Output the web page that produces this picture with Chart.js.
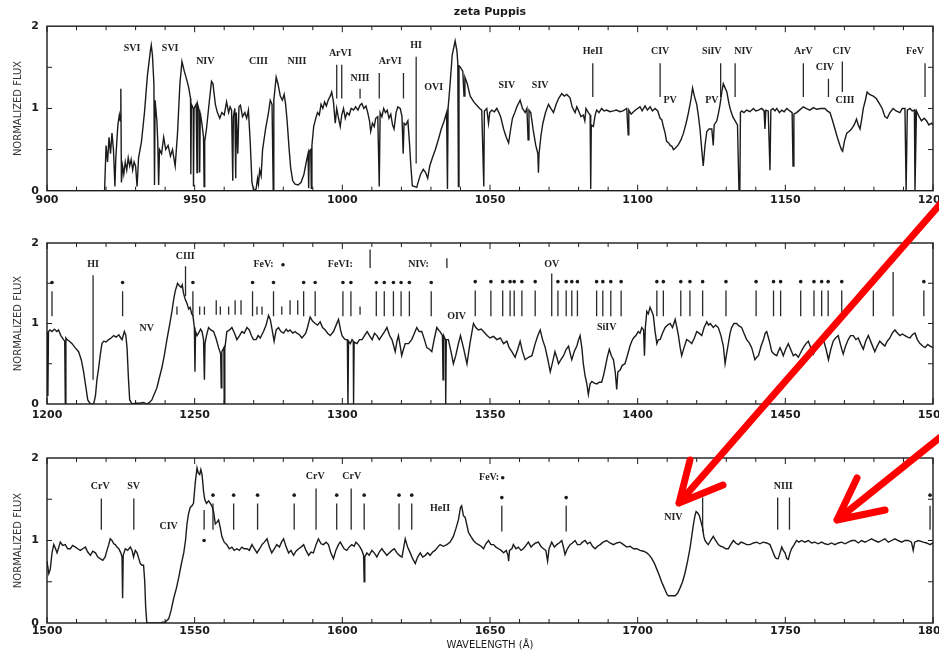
<!DOCTYPE html>
<html>
<head>
<meta charset="utf-8">
<title>zeta Puppis</title>
<script src="https://cdn.jsdelivr.net/npm/chart.js@4.4.1/dist/chart.umd.min.js"></script>
<style>
  html, body { margin: 0; padding: 0; background: #fff; }
  #wrap { position: relative; width: 939px; height: 652px; overflow: hidden; }
  #wrap canvas { position: absolute; left: 0; }
  #arrows { top: 0; pointer-events: none; }
</style>
</head>
<body>
<div id="wrap">
  <canvas id="panel1" width="939" height="215" style="top:0"></canvas>
  <canvas id="panel2" width="939" height="215" style="top:215px"></canvas>
  <canvas id="panel3" width="939" height="222" style="top:430px"></canvas>
  <canvas id="arrows" width="939" height="652"></canvas>
</div>
<script>
// --- DATA: panel 1 (900-1200 A) ---
const p1Wave = [
  919.5, 920.0, 920.5, 921.0, 921.5, 922.0, 922.5, 923.0, 923.3, 924.0,
  924.5, 924.8, 925.0, 925.2, 925.6, 926.0, 926.5, 927.0, 927.5, 928.0,
  928.5, 929.0, 929.5, 930.0, 930.5, 931.0, 932.0, 933.0, 934.0, 935.0,
  935.3, 935.7, 936.2, 936.4, 936.6, 937.2, 937.5, 937.8, 938.1, 938.8,
  939.5, 940.2, 941.0, 941.8, 942.5, 943.4, 944.2, 945.0, 945.7, 946.5,
  947.3, 948.0, 948.6, 948.7, 948.9, 949.5, 949.6, 949.8, 950.5, 950.8,
  951.0, 951.5, 951.7, 951.9, 952.5, 953.0, 953.2, 953.4, 954.0, 955.0,
  955.7, 956.2, 957.0, 957.7, 958.5, 959.2, 960.0, 960.8, 961.5, 962.0,
  962.5, 962.9, 963.1, 963.6, 963.9, 964.1, 964.6, 965.0, 965.5, 966.2,
  967.0, 967.6, 968.2, 968.8, 969.4, 970.0, 970.8, 971.3, 971.6, 972.0,
  972.5, 973.0, 974.0, 975.0, 975.6, 976.2, 976.6, 976.8, 977.6, 978.2,
  979.0, 979.7, 980.3, 980.8, 981.3, 982.0, 982.5, 983.2, 984.0, 985.0,
  986.0, 987.0, 987.8, 988.4, 988.6, 988.8, 989.3, 989.5, 989.7, 990.3,
  991.0, 991.6, 992.2, 992.8, 993.4, 994.0, 994.6, 995.2, 995.9, 996.4,
  997.0, 997.6, 998.1, 998.6, 999.3, 999.8, 1000.4, 1001.0, 1001.6, 1002.3,
  1003.0, 1003.8, 1004.5, 1005.3, 1006.0, 1006.6, 1007.3, 1008.0, 1008.6, 1009.2,
  1009.6, 1010.2, 1010.8, 1011.3, 1012.0, 1012.5, 1012.8, 1013.4, 1014.0, 1014.6,
  1015.2, 1015.8, 1016.4, 1017.0, 1017.5, 1018.2, 1018.8, 1019.6, 1020.2, 1020.6,
  1020.9, 1021.5, 1022.2, 1022.7, 1023.2, 1023.7, 1024.5, 1025.2, 1025.8, 1026.5,
  1027.4, 1028.2, 1028.9, 1029.6, 1030.5, 1031.5, 1032.5, 1033.5, 1034.5, 1035.3,
  1035.6, 1035.8, 1036.5, 1037.2, 1038.2, 1038.8, 1039.1, 1039.3, 1039.5, 1040.0,
  1040.8, 1041.2, 1041.5, 1042.3, 1043.3, 1044.5, 1045.5, 1046.5, 1047.2, 1047.9,
  1048.1, 1048.9, 1049.5, 1049.9, 1050.6, 1051.5, 1052.3, 1053.0, 1053.6, 1054.6,
  1055.5, 1056.3, 1057.0, 1057.6, 1058.4, 1059.1, 1060.2, 1061.0, 1061.9, 1062.5,
  1062.9, 1063.2, 1063.8, 1064.7, 1065.5, 1066.2, 1066.4, 1066.6, 1067.3, 1067.9,
  1068.8, 1069.8, 1070.6, 1071.5, 1072.4, 1073.2, 1074.3, 1075.2, 1076.0, 1077.1,
  1077.8, 1078.8, 1079.4, 1079.9, 1080.8, 1081.6, 1082.1, 1082.5, 1083.3, 1083.9,
  1084.1, 1084.3, 1085.0, 1085.6, 1086.1, 1086.9, 1087.8, 1088.6, 1089.5, 1090.6,
  1091.8, 1092.8, 1094.0, 1095.0, 1096.3, 1096.8, 1097.0, 1097.8, 1098.6, 1099.6,
  1100.8, 1101.5, 1102.5, 1103.3, 1104.2, 1105.0, 1105.9, 1106.8, 1107.6, 1108.2,
  1108.7, 1109.3, 1109.8, 1110.5, 1111.0, 1111.6, 1112.1, 1112.8, 1113.8, 1114.7,
  1115.5, 1116.4, 1117.2, 1118.0, 1118.6, 1119.2, 1120.0, 1120.6, 1121.1, 1121.7,
  1122.2, 1122.8, 1123.4, 1124.2, 1125.1, 1125.6, 1125.9, 1126.8, 1127.4, 1127.9,
  1128.5, 1129.0, 1129.6, 1130.2, 1130.8, 1131.3, 1132.2, 1133.0, 1133.8, 1134.3,
  1134.6, 1134.8, 1135.2, 1136.0, 1136.9, 1138.0, 1139.2, 1140.0, 1140.9, 1142.0,
  1142.8, 1143.1, 1143.4, 1144.2, 1144.8, 1145.1, 1145.8, 1146.5, 1147.1, 1148.0,
  1148.8, 1149.6, 1150.5, 1151.5, 1152.3, 1152.6, 1152.9, 1153.8, 1154.8, 1156.1,
  1157.0, 1158.3, 1159.5, 1160.6, 1162.0, 1163.4, 1164.2, 1165.1, 1166.0, 1166.8,
  1167.6, 1168.5, 1169.0, 1169.4, 1170.0, 1170.8, 1171.6, 1172.4, 1173.3, 1174.1,
  1174.7, 1175.3, 1175.9, 1176.4, 1177.1, 1177.7, 1178.5, 1179.8, 1180.8, 1182.0,
  1182.8, 1183.7, 1184.5, 1185.4, 1186.5, 1187.5, 1188.8, 1189.6, 1190.5, 1190.9,
  1191.3, 1192.2, 1193.0, 1193.7, 1193.9, 1194.4, 1195.3, 1196.1, 1197.0, 1197.8,
  1198.6, 1199.5, 1200.0
];
const p1Flux = [
  0.0, 0.55, 0.35, 0.65, 0.45, 0.7, 0.5, 0.05, 0.4, 0.8,
  0.92, 0.85, 1.24, 0.1, 0.3, 0.2, 0.35, 0.25, 0.4, 0.3,
  0.38, 0.25, 0.35, 0.3, 0.05, 0.4, 0.6, 0.95, 1.4, 1.7,
  1.77, 1.65, 1.3, 0.07, 1.1, 0.85, 0.6, 0.07, 0.5, 0.45,
  0.65, 0.5, 0.55, 0.42, 0.5, 0.3, 0.7, 1.3, 1.57, 1.45,
  1.35, 1.25, 1.12, 0.2, 1.05, 1.0, 0.05, 1.0, 1.05, 0.22,
  1.05, 0.98, 0.22, 0.95, 0.8, 0.65, 0.05, 0.6, 0.75, 1.1,
  1.33, 1.3, 1.05, 0.95, 0.88, 0.95, 0.92, 1.08, 0.95, 1.02,
  0.98, 0.12, 0.9, 1.0, 0.15, 0.95, 0.45, 1.02, 1.04, 0.9,
  0.95, 0.88, 0.98, 0.6, 0.1, 0.0, 0.02, 0.15, 0.08, 0.25,
  0.18, 0.5, 0.75, 0.95, 1.1, 1.05, 0.0, 1.1, 1.38, 1.3,
  1.15, 1.1, 1.17, 1.05, 0.85, 0.5, 0.28, 0.12, 0.08, 0.07,
  0.1, 0.2, 0.35, 0.45, 0.03, 0.48, 0.5, 0.03, 0.55, 0.78,
  0.88, 0.95, 0.92, 1.05, 1.0, 1.08, 1.03, 1.1, 1.15, 1.2,
  1.08, 0.82, 1.0, 0.9, 0.78, 0.92, 1.0, 0.88, 0.95, 0.92,
  1.0, 0.98, 1.02, 0.98, 1.04, 1.06, 1.0, 1.03, 0.95, 0.85,
  0.72, 0.82, 0.78, 0.88, 0.9, 0.05, 0.95, 0.9, 1.0, 0.95,
  0.98, 0.88, 0.93, 0.8, 0.75, 0.95, 1.02, 1.0, 0.9, 0.45,
  0.82, 0.8, 0.85, 0.6, 0.3, 0.06, 0.05, 0.04, 0.12, 0.2,
  0.26, 0.22, 0.15, 0.3, 0.4, 0.5, 0.62, 0.75, 0.85, 0.95,
  0.02, 1.0, 1.3, 1.65, 1.82, 1.7, 1.55, 0.05, 1.52, 1.5,
  1.45, 1.15, 1.38, 1.3, 1.15, 1.08, 1.04, 1.0, 0.98, 0.05,
  0.97, 1.0, 0.82, 0.95, 0.98, 0.96, 1.0, 0.95, 0.9, 0.75,
  0.65, 0.58, 0.75, 0.88, 0.95, 1.02, 1.1, 1.0, 0.95, 1.0,
  0.62, 0.98, 0.95, 0.72, 0.55, 0.45, 0.22, 0.45, 0.68, 0.82,
  0.95, 1.05, 1.0, 0.95, 1.05, 1.12, 1.18, 1.15, 1.17, 1.13,
  1.02, 0.95, 1.02, 0.98, 0.9, 0.92, 0.85, 1.0, 0.95, 0.92,
  0.02, 0.8, 0.78, 0.92, 0.98, 0.95, 1.0, 0.97, 0.98, 0.96,
  0.97, 0.98, 0.96, 0.97, 1.0, 0.68, 0.98, 0.93, 0.96, 0.99,
  1.02, 0.97, 1.03, 0.98, 1.02, 0.97, 1.0, 0.97, 0.88, 0.86,
  0.78, 0.7, 0.6, 0.58, 0.55, 0.54, 0.5, 0.52, 0.56, 0.62,
  0.7, 0.82, 0.95, 1.1, 1.25, 1.15, 1.05, 0.9, 0.75, 0.5,
  0.3, 0.55, 0.72, 0.75, 0.75, 0.55, 0.8, 0.85, 0.95, 1.05,
  1.2, 1.3, 1.25, 1.2, 1.08, 1.0, 0.9, 0.85, 0.8, 0.0,
  0.0, 0.95, 0.97, 0.95, 0.98, 0.96, 1.0, 0.97, 0.98, 1.0,
  0.97, 0.75, 0.98, 0.97, 0.25, 0.98, 1.0, 0.97, 1.0, 0.95,
  0.98, 0.96, 1.0, 0.97, 0.95, 0.3, 0.93, 0.95, 0.98, 1.02,
  1.0, 0.98, 1.01, 0.99, 1.0, 1.0, 0.97, 0.95, 0.85, 0.75,
  0.65, 0.55, 0.5, 0.48, 0.6, 0.7, 0.72, 0.75, 0.8, 0.87,
  0.8, 0.75, 0.88, 1.0, 1.1, 1.2, 1.17, 1.15, 1.12, 1.05,
  1.0, 0.9, 0.88, 0.95, 1.0, 0.97, 0.95, 1.0, 1.0, 0.0,
  0.98, 1.0, 0.97, 0.98, 0.0, 0.97, 0.9, 0.85, 0.88, 0.85,
  0.8, 0.82, 0.8
];
const p1LabelText = ['SVI', 'SVI', 'NIV', 'CIII', 'NIII', 'ArVI', 'NIII', 'ArVI', 'HI', 'OVI',
  'SIV', 'SIV', 'HeII', 'CIV', 'PV', 'SiIV', 'PV', 'NIV', 'ArV', 'CIV', 'CIV', 'CIII', 'FeV'];
const p1LabelWave = [928.8, 941.7, 953.6, 971.6, 984.6, 999.3, 1006.0, 1016.2, 1025.0, 1030.9,
  1055.7, 1067.0, 1084.8, 1107.6, 1111.0, 1125.1, 1125.1, 1135.8, 1156.1, 1163.4, 1169.1, 1170.2, 1193.9];
const p1LabelFlux = [1.73, 1.73, 1.57, 1.57, 1.57, 1.67, 1.36, 1.57, 1.77, 1.26,
  1.28, 1.28, 1.69, 1.69, 1.1, 1.69, 1.1, 1.69, 1.69, 1.5, 1.69, 1.1, 1.69];
const p1MarkWave = [998.1, 999.8, 1006.0, 1012.5, 1020.7, 1025.0, 1084.8, 1107.6, 1128.1, 1133.0, 1156.1, 1164.6, 1169.3, 1197.3];
const p1MarkTop  = [1.53, 1.53, 1.24, 1.43, 1.43, 1.63, 1.55, 1.55, 1.55, 1.55, 1.55, 1.36, 1.57, 1.55];
const p1MarkBot  = [1.12, 1.12, 1.12, 1.12, 1.12, 0.33, 1.14, 1.14, 1.14, 1.14, 1.14, 1.14, 1.2, 1.14];

// --- DATA: panel 2 (1200-1500 A) ---
const p2Wave = [
  1200.0, 1200.3, 1200.5, 1201.0, 1201.7, 1202.5, 1203.3, 1203.9, 1204.7, 1205.6,
  1206.0, 1206.2, 1206.4, 1206.8, 1207.6, 1208.5, 1209.5, 1210.7, 1211.6, 1212.4,
  1213.2, 1213.8, 1214.7, 1215.8, 1216.4, 1216.9, 1217.5, 1218.0, 1218.6, 1219.2,
  1220.0, 1220.9, 1221.7, 1222.6, 1223.4, 1224.3, 1225.0, 1225.4, 1226.2, 1226.7,
  1227.1, 1227.6, 1228.0, 1228.8, 1230.0, 1231.6, 1232.5, 1233.8, 1234.7, 1235.5,
  1236.3, 1237.2, 1238.0, 1238.9, 1239.8, 1240.6, 1241.5, 1242.3, 1242.9, 1243.4,
  1244.2, 1244.8, 1245.4, 1245.8, 1246.2, 1246.8, 1247.4, 1248.0, 1248.5, 1249.0,
  1249.4, 1249.9, 1250.1, 1250.3, 1250.8, 1251.3, 1252.0, 1252.5, 1253.0, 1253.3,
  1253.5, 1254.0, 1254.7, 1255.5, 1256.4, 1257.2, 1258.1, 1258.8, 1259.0, 1259.2,
  1259.9, 1260.0, 1260.2, 1260.9, 1261.8, 1262.6, 1263.5, 1264.3, 1265.2, 1266.0,
  1266.8, 1267.7, 1268.5, 1269.2, 1269.9, 1270.8, 1271.5, 1272.2, 1273.3, 1274.2,
  1275.0, 1275.6, 1276.1, 1276.9, 1277.6, 1278.4, 1279.2, 1280.1, 1281.0, 1281.6,
  1282.3, 1283.2, 1284.0, 1284.6, 1285.5, 1286.3, 1287.0, 1287.6, 1288.2, 1289.1,
  1289.9, 1290.8, 1291.6, 1292.5, 1293.3, 1294.2, 1295.0, 1295.9, 1297.0, 1297.9,
  1298.7, 1299.4, 1299.9, 1300.5, 1301.0, 1301.7, 1301.9, 1302.1, 1302.7, 1303.3,
  1303.7, 1303.8, 1304.0, 1305.0, 1305.8, 1306.7, 1307.5, 1308.4, 1309.2, 1310.1,
  1310.9, 1311.7, 1312.5, 1313.4, 1314.3, 1315.1, 1316.0, 1316.8, 1317.4, 1317.9,
  1318.5, 1319.0, 1319.6, 1320.1, 1320.7, 1321.3, 1322.4, 1323.5, 1324.4, 1325.2,
  1326.0, 1326.9, 1327.8, 1328.6, 1329.5, 1330.3, 1331.2, 1332.0, 1332.6, 1333.1,
  1333.9, 1334.1, 1334.3, 1334.9, 1335.0, 1335.2, 1335.9, 1336.8, 1337.6, 1338.4,
  1339.3, 1340.0, 1341.0, 1342.2, 1343.2, 1344.4, 1345.2, 1346.1, 1347.0, 1347.8,
  1349.0, 1350.0, 1351.2, 1352.3, 1353.5, 1354.6, 1355.7, 1356.5, 1357.4, 1358.5,
  1359.4, 1360.2, 1361.0, 1361.9, 1363.0, 1364.2, 1365.3, 1366.2, 1367.0, 1367.8,
  1368.7, 1369.6, 1370.4, 1371.2, 1372.0, 1372.6, 1373.2, 1374.0, 1374.9, 1375.8,
  1376.6, 1377.2, 1377.7, 1378.5, 1379.4, 1380.0, 1380.5, 1381.1, 1381.6, 1382.2,
  1382.8, 1383.3, 1383.9, 1384.5, 1385.3, 1386.2, 1387.0, 1387.8, 1388.4, 1389.0,
  1389.7, 1390.4, 1391.1, 1391.8, 1392.4, 1392.9, 1393.3, 1394.0, 1394.8, 1395.7,
  1396.5, 1397.4, 1398.0, 1398.6, 1399.4, 1400.2, 1400.8, 1401.4, 1402.0, 1402.3,
  1402.6, 1403.1, 1403.6, 1404.2, 1404.8, 1405.3, 1405.9, 1406.5, 1407.0, 1407.6,
  1408.4, 1409.3, 1410.1, 1411.0, 1411.8, 1412.7, 1413.3, 1413.8, 1414.4, 1414.9,
  1415.7, 1416.6, 1417.5, 1418.3, 1419.2, 1420.0, 1420.8, 1421.7, 1422.5, 1423.4,
  1424.0, 1424.6, 1425.6, 1426.4, 1427.3, 1428.2, 1429.0, 1429.6, 1430.1, 1430.7,
  1431.3, 1431.8, 1432.6, 1433.5, 1434.3, 1435.2, 1436.0, 1436.9, 1437.8, 1438.6,
  1439.2, 1439.7, 1440.3, 1440.9, 1441.8, 1442.6, 1443.2, 1443.7, 1444.6, 1445.4,
  1446.2, 1447.1, 1447.7, 1448.2, 1448.8, 1449.3, 1450.1, 1451.0, 1451.8, 1452.7,
  1453.5, 1454.4, 1455.2, 1456.1, 1457.0, 1457.8, 1458.6, 1459.5, 1460.4, 1461.2,
  1462.0, 1462.9, 1463.8, 1464.6, 1465.4, 1466.2, 1467.0, 1467.9, 1468.8, 1469.6,
  1470.4, 1471.3, 1472.1, 1473.0, 1473.9, 1474.7, 1475.5, 1476.4, 1477.2, 1478.1,
  1479.2, 1480.3, 1481.1, 1482.0, 1482.8, 1483.7, 1484.5, 1485.4, 1486.2, 1487.1,
  1488.0, 1488.8, 1489.6, 1490.5, 1491.4, 1492.2, 1493.0, 1493.9, 1494.7, 1495.6,
  1496.5, 1497.3, 1498.2, 1499.0, 1500.0
];
const p2Flux = [
  0.9, 0.1, 0.9, 0.92, 0.9, 0.93, 0.9, 0.92, 0.85, 0.8,
  0.78, 0.0, 0.82, 0.8, 0.78, 0.75, 0.7, 0.65, 0.55, 0.4,
  0.2, 0.05, 0.0, 0.0, 0.1, 0.3, 0.45, 0.6, 0.75, 0.78,
  0.77, 0.8, 0.82, 0.85, 0.83, 0.86, 0.82, 0.8, 0.9, 0.85,
  0.7, 0.3, 0.05, 0.0, 0.01, 0.01, 0.02, 0.0, 0.02, 0.05,
  0.12, 0.2, 0.32, 0.45, 0.62, 0.8, 0.98, 1.15, 1.3, 1.4,
  1.5, 1.47, 1.45, 1.48, 1.38, 1.3, 1.25, 1.18, 1.2, 1.12,
  1.1, 0.95, 0.4, 0.9, 0.85, 0.88, 0.93, 0.9, 0.8, 0.3,
  0.75, 0.85, 0.95, 0.92, 0.9, 0.82, 0.7, 0.62, 0.2, 0.65,
  0.7, 0.0, 0.68, 0.9, 0.92, 0.95, 0.88, 0.8, 0.85, 0.9,
  0.88, 0.95, 0.92, 0.85, 0.8, 0.8, 0.85, 0.82, 0.9, 0.98,
  1.1, 1.05, 0.95, 0.78, 0.92, 0.95, 0.9, 0.88, 0.93, 0.9,
  0.92, 0.88, 0.9, 0.88, 0.86, 0.82, 0.85, 0.88, 0.95, 1.08,
  1.03, 1.0, 0.98, 1.02, 0.95, 0.92, 0.88, 0.85, 0.9, 0.98,
  1.05, 0.92, 0.85, 0.82, 0.8, 0.8, 0.0, 0.78, 0.75, 0.8,
  0.78, 0.0, 0.77, 0.75, 0.8, 0.8, 0.85, 0.9, 0.85, 0.8,
  0.88, 0.85, 0.8, 0.85, 0.9, 0.95, 0.85, 0.8, 0.72, 0.65,
  0.78, 0.85, 0.72, 0.6, 0.68, 0.75, 0.75, 0.8, 0.88, 0.95,
  0.9, 0.9, 0.8, 0.7, 0.68, 0.65, 0.82, 0.95, 0.92, 0.9,
  0.85, 0.3, 0.85, 0.8, 0.0, 0.8, 0.8, 0.65, 0.5, 0.6,
  0.75, 0.85, 0.7, 0.5, 0.75, 1.0, 0.95, 0.92, 0.93, 0.9,
  0.85, 0.82, 0.84, 0.8, 0.82, 0.75, 0.78, 0.7, 0.65, 0.58,
  0.68, 0.78, 0.65, 0.55, 0.58, 0.6, 0.75, 0.85, 0.92, 0.8,
  0.7, 0.55, 0.4, 0.52, 0.65, 0.58, 0.5, 0.55, 0.6, 0.68,
  0.72, 0.62, 0.55, 0.65, 0.72, 0.8, 0.85, 0.7, 0.5, 0.35,
  0.25, 0.12, 0.25, 0.28, 0.26, 0.25, 0.27, 0.27, 0.35, 0.45,
  0.58, 0.68, 0.6, 0.55, 0.4, 0.18, 0.4, 0.42, 0.48, 0.5,
  0.6, 0.72, 0.78, 0.82, 0.85, 0.9, 0.88, 0.95, 0.92, 0.6,
  0.95, 1.15, 1.12, 1.2, 1.15, 1.1, 0.9, 0.75, 0.8, 0.8,
  0.88, 0.95, 0.98, 1.0, 0.95, 1.05, 0.95, 0.85, 0.7, 0.6,
  0.7, 0.8, 0.78, 0.75, 0.82, 0.9, 0.88, 0.85, 0.95, 1.02,
  0.98, 1.0, 0.95, 0.98, 0.95, 0.85, 0.72, 0.5, 0.62, 0.75,
  0.88, 0.95, 1.0, 1.0, 0.97, 0.95, 0.88, 0.8, 0.76, 0.7,
  0.62, 0.55, 0.58, 0.6, 0.72, 0.8, 0.88, 0.9, 0.78, 0.65,
  0.62, 0.6, 0.66, 0.7, 0.65, 0.6, 0.68, 0.75, 0.68, 0.6,
  0.62, 0.58, 0.64, 0.7, 0.75, 0.78, 0.7, 0.62, 0.68, 0.75,
  0.78, 0.8, 0.68, 0.55, 0.68, 0.78, 0.82, 0.85, 0.72, 0.62,
  0.72, 0.8, 0.85, 0.85, 0.8, 0.82, 0.75, 0.68, 0.78, 0.85,
  0.75, 0.65, 0.72, 0.78, 0.75, 0.72, 0.78, 0.82, 0.88, 0.92,
  0.88, 0.85, 0.87, 0.85, 0.83, 0.82, 0.86, 0.88, 0.8, 0.75,
  0.72, 0.7, 0.74, 0.72, 0.7
];
const p2LabelText = ['HI', 'NV', 'CIII', 'FeV:', 'FeVI:', 'NIV:', 'OIV', 'OV', 'SiIV'];
const p2LabelWave = [1215.6, 1233.8, 1246.8, 1273.3, 1299.3, 1325.8, 1338.7, 1370.9, 1389.5];
const p2LabelFlux = [1.73, 0.94, 1.83, 1.73, 1.73, 1.73, 1.09, 1.74, 0.95];
const p2MarkWave = [
  1201.7, 1215.6, 1225.6, 1244.0, 1246.9, 1249.4, 1251.7, 1253.3, 1257.3, 1258.7,
  1261.5, 1263.7, 1265.7, 1269.6, 1271.1, 1272.8, 1276.7, 1279.5, 1282.3, 1284.9,
  1286.9, 1290.8, 1300.2, 1302.9, 1306.0, 1309.4, 1311.5, 1314.2, 1317.3, 1319.9,
  1322.7, 1330.1, 1335.4, 1345.0, 1350.3, 1354.3, 1356.8, 1358.2, 1360.8, 1365.3,
  1370.9, 1373.0, 1375.8, 1377.7, 1379.6, 1386.1, 1388.2, 1390.9, 1394.4, 1406.5,
  1408.7, 1414.6, 1417.7, 1422.0, 1429.9, 1440.1, 1446.0, 1448.4, 1455.2, 1459.7,
  1462.3, 1464.5, 1469.1, 1479.8, 1486.5, 1496.9
];
const p2MarkTop = [
  1.4, 1.6, 1.4, 1.21, 1.71, 1.4, 1.21, 1.21, 1.29, 1.21,
  1.21, 1.29, 1.29, 1.4, 1.21, 1.21, 1.4, 1.21, 1.29, 1.29,
  1.4, 1.4, 1.4, 1.4, 1.21, 1.92, 1.4, 1.4, 1.4, 1.4,
  1.4, 1.4, 1.81, 1.41, 1.41, 1.41, 1.41, 1.41, 1.41, 1.41,
  1.62, 1.41, 1.41, 1.41, 1.41, 1.41, 1.41, 1.41, 1.41, 1.41,
  1.41, 1.41, 1.41, 1.41, 1.41, 1.41, 1.41, 1.41, 1.41, 1.41,
  1.41, 1.41, 1.41, 1.41, 1.64, 1.41
];
const p2MarkBot = [
  1.09, 0.3, 1.09, 1.11, 1.34, 1.09, 1.11, 1.11, 1.11, 1.11,
  1.11, 1.11, 1.11, 1.09, 1.11, 1.11, 1.09, 1.11, 1.11, 1.11,
  1.09, 1.09, 1.09, 1.09, 1.11, 1.69, 1.09, 1.09, 1.09, 1.09,
  1.09, 1.09, 1.69, 1.09, 1.09, 1.09, 1.09, 1.09, 1.09, 1.09,
  1.09, 1.09, 1.09, 1.09, 1.09, 1.09, 1.09, 1.09, 1.09, 1.09,
  1.09, 1.09, 1.09, 1.09, 1.09, 1.09, 1.09, 1.09, 1.09, 1.09,
  1.09, 1.09, 1.09, 1.09, 1.09, 1.09
];
const p2StarWave = [
  1201.7, 1225.6, 1249.4, 1269.6, 1276.7, 1279.9, 1286.9, 1290.8, 1300.2, 1302.9,
  1311.5, 1314.2, 1317.3, 1319.9, 1322.7, 1330.1, 1345.0, 1350.3, 1354.3, 1356.8,
  1358.2, 1360.8, 1365.3, 1373.0, 1375.8, 1377.7, 1379.6, 1386.1, 1388.2, 1390.9,
  1394.4, 1406.5, 1408.7, 1414.6, 1417.7, 1422.0, 1429.9, 1440.1, 1446.0, 1448.4,
  1455.2, 1459.7, 1462.3, 1464.5, 1469.1, 1479.8, 1496.9
];
const p2StarFlux = [
  1.51, 1.51, 1.51, 1.51, 1.51, 1.73, 1.51, 1.51, 1.51, 1.51,
  1.51, 1.51, 1.51, 1.51, 1.51, 1.51, 1.52, 1.52, 1.52, 1.52,
  1.52, 1.52, 1.52, 1.52, 1.52, 1.52, 1.52, 1.52, 1.52, 1.52,
  1.52, 1.52, 1.52, 1.52, 1.52, 1.52, 1.52, 1.52, 1.52, 1.52,
  1.52, 1.52, 1.52, 1.52, 1.52, 1.52, 1.52
];

// --- DATA: panel 3 (1500-1800 A) ---
const p3Wave = [
  1500.0, 1500.6, 1501.1, 1501.7, 1502.3, 1502.9, 1503.4, 1504.0, 1504.5, 1505.3,
  1506.2, 1507.0, 1507.9, 1508.7, 1509.6, 1510.4, 1511.3, 1512.1, 1513.0, 1513.8,
  1514.7, 1515.5, 1516.4, 1517.2, 1518.0, 1518.9, 1519.7, 1520.3, 1520.9, 1521.4,
  1522.0, 1522.6, 1523.1, 1523.7, 1524.3, 1525.0, 1525.4, 1525.6, 1525.8, 1526.5,
  1527.3, 1528.2, 1528.8, 1529.3, 1529.9, 1530.5, 1531.1, 1531.6, 1532.2, 1532.7,
  1533.1, 1533.4, 1533.8, 1535.5, 1537.0, 1538.4, 1539.2, 1540.0, 1540.6, 1541.2,
  1542.0, 1542.9, 1543.8, 1544.6, 1545.4, 1546.3, 1546.9, 1547.4, 1547.9, 1548.5,
  1549.1, 1549.6, 1550.2, 1550.8, 1551.2, 1551.7, 1552.1, 1552.5, 1553.0, 1553.4,
  1554.0, 1554.7, 1555.3, 1555.8, 1556.4, 1557.0, 1557.5, 1558.1, 1558.7, 1559.2,
  1560.0, 1560.9, 1561.7, 1562.6, 1563.4, 1564.3, 1565.1, 1566.0, 1566.8, 1567.7,
  1568.5, 1569.4, 1570.2, 1571.1, 1572.0, 1572.8, 1573.6, 1574.5, 1575.3, 1576.1,
  1577.0, 1577.8, 1578.7, 1579.4, 1580.1, 1581.0, 1581.8, 1582.6, 1583.5, 1584.3,
  1585.2, 1586.0, 1586.9, 1587.7, 1588.6, 1589.4, 1590.2, 1591.1, 1591.9, 1592.8,
  1593.6, 1594.5, 1595.3, 1596.1, 1597.0, 1597.8, 1598.7, 1599.3, 1599.8, 1600.6,
  1601.5, 1602.3, 1603.2, 1604.0, 1604.6, 1605.4, 1606.0, 1606.6, 1607.2, 1607.4,
  1607.6, 1608.3, 1609.1, 1610.0, 1610.8, 1611.7, 1612.5, 1613.4, 1614.2, 1615.1,
  1615.9, 1616.8, 1617.6, 1618.5, 1619.3, 1620.2, 1620.8, 1621.3, 1622.1, 1623.0,
  1623.8, 1624.7, 1625.5, 1626.4, 1627.2, 1628.1, 1628.9, 1629.7, 1630.6, 1631.4,
  1632.3, 1633.1, 1634.2, 1635.4, 1636.5, 1637.6, 1638.5, 1639.3, 1640.0, 1640.4,
  1641.0, 1641.6, 1642.7, 1643.5, 1644.4, 1645.2, 1646.1, 1647.0, 1647.8, 1648.6,
  1649.5, 1650.3, 1651.2, 1652.0, 1652.9, 1653.8, 1654.6, 1655.5, 1656.1, 1656.3,
  1656.6, 1657.4, 1657.9, 1658.8, 1659.6, 1660.5, 1661.3, 1662.2, 1663.0, 1663.9,
  1664.7, 1665.5, 1666.4, 1667.2, 1668.1, 1668.9, 1669.5, 1670.0, 1670.9, 1671.8,
  1672.6, 1673.4, 1674.3, 1675.0, 1675.4, 1676.2, 1677.1, 1677.9, 1678.8, 1679.6,
  1680.5, 1681.3, 1682.2, 1683.0, 1683.9, 1684.7, 1685.6, 1686.4, 1687.3, 1688.3,
  1689.5, 1690.6, 1691.8, 1692.9, 1694.0, 1695.2, 1696.3, 1697.4, 1698.6, 1699.7,
  1700.8, 1702.0, 1703.1, 1704.0, 1704.8, 1705.7, 1706.5, 1707.3, 1708.1, 1708.7,
  1709.3, 1709.9, 1710.4, 1711.5, 1712.7, 1713.5, 1714.3, 1715.2, 1716.0, 1716.9,
  1717.7, 1718.3, 1718.9, 1719.4, 1719.8, 1720.4, 1720.9, 1721.5, 1722.0, 1722.4,
  1722.8, 1723.4, 1723.9, 1724.7, 1725.6, 1726.4, 1727.3, 1728.1, 1729.0, 1729.8,
  1730.7, 1731.5, 1732.4, 1733.2, 1734.1, 1735.0, 1735.8, 1736.9, 1738.0, 1739.2,
  1740.3, 1741.4, 1742.5, 1743.7, 1744.8, 1745.6, 1746.5, 1747.0, 1747.6, 1748.2,
  1748.8, 1749.3, 1749.9, 1750.5, 1751.0, 1751.6, 1752.1, 1753.0, 1753.8, 1754.6,
  1755.5, 1756.6, 1757.8, 1758.9, 1760.0, 1761.1, 1762.3, 1763.4, 1764.5, 1765.6,
  1766.8, 1767.9, 1769.1, 1770.2, 1771.3, 1772.5, 1773.6, 1774.7, 1775.8, 1777.0,
  1778.1, 1779.2, 1780.3, 1781.5, 1782.6, 1783.7, 1784.9, 1786.0, 1787.1, 1788.2,
  1789.4, 1790.5, 1791.6, 1792.7, 1793.3, 1793.8, 1795.0, 1796.7, 1797.8, 1799.0,
  1800.0
];
const p3Flux = [
  0.75, 0.6, 0.65, 0.85, 0.95, 0.9, 0.85, 0.92, 0.98, 0.94,
  0.95, 0.9, 0.9, 0.94, 0.92, 0.9, 0.88, 0.9, 0.92, 0.86,
  0.82, 0.87, 0.85, 0.8, 0.78, 0.76, 0.8, 0.88, 0.95, 1.02,
  1.0, 0.96, 0.95, 0.92, 0.9, 0.85, 0.8, 0.3, 0.82, 0.9,
  0.88, 0.92, 0.88, 0.8, 0.88, 0.85, 0.78, 0.72, 0.7, 0.7,
  0.5, 0.2, 0.0, 0.0, 0.0, 0.0, 0.01, 0.01, 0.03, 0.05,
  0.15, 0.3, 0.42, 0.55, 0.7, 0.85, 1.0, 1.2, 1.32, 1.4,
  1.42, 1.45, 1.7, 1.88, 1.82, 1.8, 1.86, 1.8, 1.6, 1.5,
  1.45, 1.48, 1.45, 1.42, 1.35, 1.2, 1.22, 1.25, 1.15, 1.05,
  0.98, 0.95, 0.9, 0.92, 0.88, 0.9, 0.88, 0.92, 0.9, 0.9,
  0.88, 0.95, 0.9, 0.85, 0.9, 0.95, 0.98, 1.02, 0.92, 0.85,
  0.9, 0.95, 0.92, 0.98, 1.02, 0.92, 0.85, 0.88, 0.82, 0.87,
  0.9, 0.92, 0.95, 0.88, 0.82, 0.86, 0.85, 0.95, 1.02, 0.96,
  0.95, 0.98, 0.95, 0.85, 0.78, 0.88, 0.95, 0.98, 0.95, 0.9,
  0.88, 0.92, 0.95, 0.93, 0.98, 0.95, 0.92, 0.88, 0.82, 0.5,
  0.8, 0.85, 0.82, 0.88, 0.85, 0.8, 0.86, 0.9, 0.86, 0.82,
  0.85, 0.88, 0.9, 0.85, 0.82, 0.8, 0.92, 1.02, 0.92, 0.85,
  0.78, 0.72, 0.8, 0.85, 0.8, 0.82, 0.85, 0.82, 0.86, 0.88,
  0.92, 0.95, 0.93, 0.95, 0.98, 1.05, 1.15, 1.25, 1.4, 1.42,
  1.3, 1.28, 1.1, 1.05, 1.0, 0.97, 0.95, 0.93, 0.9, 0.96,
  1.0, 0.95, 0.95, 0.92, 0.9, 0.88, 0.85, 0.88, 0.82, 0.75,
  0.88, 0.9, 0.95, 0.9, 0.92, 0.88, 0.9, 0.94, 0.98, 0.92,
  0.95, 0.97, 0.98, 0.93, 0.9, 0.88, 0.75, 0.9, 0.98, 0.92,
  0.95, 0.97, 1.0, 0.9, 0.83, 0.9, 0.95, 0.97, 1.0, 0.95,
  0.95, 0.98, 1.0, 0.96, 0.98, 0.93, 0.9, 0.93, 0.95, 0.98,
  1.0, 0.97, 0.95, 0.97, 0.98, 0.95, 0.92, 0.93, 0.9, 0.9,
  0.88, 0.87, 0.85, 0.82, 0.78, 0.72, 0.65, 0.58, 0.5, 0.45,
  0.4, 0.35, 0.33, 0.33, 0.33, 0.36, 0.42, 0.5, 0.6, 0.75,
  0.9, 1.05, 1.2, 1.3, 1.35, 1.33, 1.3, 1.22, 1.15, 1.05,
  1.0, 0.97, 0.95, 1.0, 1.05, 1.0, 0.95, 0.93, 0.92, 0.9,
  0.9, 0.95, 1.0, 0.97, 0.95, 0.98, 0.97, 0.95, 0.95, 0.97,
  0.98, 0.96, 0.98, 0.97, 0.95, 0.88, 0.8, 0.78, 0.78, 0.85,
  0.92, 0.88, 0.85, 0.78, 0.77, 0.85, 0.9, 0.95, 1.0, 0.98,
  1.0, 0.98, 1.0, 0.97, 0.98, 0.96, 0.98, 0.96, 0.95, 0.97,
  0.95, 0.97, 0.98, 0.96, 0.98, 1.0, 1.0, 0.97, 1.0, 0.98,
  1.0, 1.02, 1.0, 0.98, 1.0, 1.02, 0.98, 1.0, 1.02, 1.0,
  0.98, 1.0, 1.0, 0.98, 0.88, 0.98, 1.0, 0.98, 0.97, 0.95,
  0.97
];
const p3LabelText = ['CrV', 'SV', 'CIV', 'CrV', 'CrV', 'HeII', 'FeV:', 'NIV', 'NIII'];
const p3LabelWave = [1518.0, 1529.3, 1541.2, 1590.8, 1603.2, 1633.1, 1649.7, 1712.1, 1749.3];
const p3LabelFlux = [1.66, 1.66, 1.17, 1.78, 1.78, 1.39, 1.76, 1.28, 1.66];
const p3MarkWave = [1518.4, 1529.4, 1553.2, 1556.2, 1563.2, 1571.3, 1583.7, 1591.1, 1598.1, 1603.0,
  1607.4, 1619.2, 1623.5, 1654.0, 1675.8, 1722.0, 1747.4, 1751.4, 1799.0];
const p3MarkTop = [1.51, 1.51, 1.37, 1.45, 1.45, 1.45, 1.45, 1.63, 1.45, 1.63,
  1.45, 1.45, 1.45, 1.42, 1.42, 1.52, 1.52, 1.52, 1.42];
const p3MarkBot = [1.13, 1.13, 1.13, 1.13, 1.13, 1.13, 1.13, 1.13, 1.13, 1.13,
  1.13, 1.13, 1.13, 1.11, 1.11, 1.11, 1.13, 1.13, 1.13];
const p3StarWave = [1553.2, 1556.2, 1563.2, 1571.3, 1583.7, 1598.1, 1607.4, 1619.2, 1623.5, 1654.0, 1654.3, 1675.8, 1799.0];
const p3StarFlux = [1.0, 1.55, 1.55, 1.55, 1.55, 1.55, 1.55, 1.55, 1.55, 1.52, 1.76, 1.52, 1.55];

// --- STYLE ---
const INK = '#1b1b1b';
const TICK_FONT = { family: 'DejaVu Sans', size: 11, weight: 'bold' };
const ID_FONT = 'bold 10px "Liberation Serif"';

const pts = (w, f) => w.map((x, i) => ({ x: x, y: f[i] }));

// vertical identification ticks, separated by gaps
function segs(w, top, bot) {
    const d = [];
    w.forEach((x, i) => {
        d.push({ x: x, y: bot[i] }, { x: x, y: top[i] }, { x: x, y: null });
    });
    return d;
}

// Cadre + petites graduations vers l'intérieur
const framePlugin = {
    id: 'frame',
    afterDatasetsDraw(chart) {
        const { ctx, chartArea: a, scales: { x, y } } = chart;
        ctx.save();
        ctx.strokeStyle = INK;
        ctx.lineWidth = 1.4;
        ctx.strokeRect(a.left, a.top, a.right - a.left, a.bottom - a.top);
        ctx.lineWidth = 1;
        ctx.beginPath();
        for (let v = x.min; v <= x.max; v += 10) {
            const px = x.getPixelForValue(v);
            const len = v % 50 === 0 ? 6 : 4;
            ctx.moveTo(px, a.bottom); ctx.lineTo(px, a.bottom - len);
            ctx.moveTo(px, a.top); ctx.lineTo(px, a.top + len);
        }
        for (let v = 0.5; v < 2; v += 0.5) {
            const py = y.getPixelForValue(v);
            ctx.moveTo(a.left, py); ctx.lineTo(a.left + 5, py);
            ctx.moveTo(a.right, py); ctx.lineTo(a.right - 5, py);
        }
        ctx.stroke();
        ctx.restore();
    }
};

function idPlugin(text, wave, flux) {
    return {
        id: 'lineIds',
        afterDatasetsDraw(chart) {
            const { ctx, scales: { x, y } } = chart;
            ctx.save();
            ctx.font = ID_FONT;
            ctx.fillStyle = '#222';
            ctx.textAlign = 'center';
            ctx.textBaseline = 'middle';
            text.forEach((t, i) => {
                ctx.fillText(t, x.getPixelForValue(wave[i]), y.getPixelForValue(flux[i]));
            });
            ctx.restore();
        }
    };
}

function drawPanel(id, p) {
    return new Chart(document.getElementById(id), {
        type: 'line',
        data: {
            datasets: [
                { data: pts(p.wave, p.flux), borderColor: INK, borderWidth: 1.4, pointRadius: 0, tension: 0 },
                { data: segs(p.markWave, p.markTop, p.markBot), borderColor: '#2a2a2a', borderWidth: 1.3, pointRadius: 0, spanGaps: false },
                { type: 'scatter', data: pts(p.starWave, p.starFlux), pointRadius: 1.8, backgroundColor: INK, borderWidth: 0 }
            ]
        },
        options: {
            responsive: false,
            animation: false,
            devicePixelRatio: 1,
            layout: { padding: { top: p.padTop, right: 6, left: 0, bottom: 0 } },
            plugins: {
                legend: { display: false },
                tooltip: { enabled: false },
                title: p.title ? {
                    display: true, text: p.title, fullSize: false, color: INK,
                    font: { family: 'DejaVu Sans', size: 11, weight: 'bold' },
                    padding: { top: 6, bottom: 7 }
                } : { display: false }
            },
            scales: {
                x: {
                    type: 'linear', min: p.min, max: p.max,
                    grid: { display: false, drawTicks: false },
                    border: { display: false },
                    ticks: {
                        stepSize: 50, font: TICK_FONT, color: INK, padding: p.tickPad,
                        maxRotation: 0, minRotation: 0,
                        callback: v => String(v)
                    },
                    title: p.xTitle ? {
                        display: true, text: p.xTitle, color: INK,
                        font: { family: 'DejaVu Sans', size: 10 },
                        padding: { top: 0, bottom: 1 }
                    } : { display: false },
                    afterFit: s => { s.height = p.xHeight; s.paddingLeft = 0; s.paddingRight = 0; }
                },
                y: {
                    min: 0, max: 2,
                    grid: { display: false, drawTicks: false },
                    border: { display: false },
                    ticks: { stepSize: 1, font: TICK_FONT, color: INK, padding: 8, callback: v => String(v) },
                    title: {
                        display: true, text: 'NORMALIZED FLUX', color: '#333',
                        font: { family: 'DejaVu Sans', size: 10 },
                        padding: { top: 12 }
                    },
                    afterFit: s => { s.width = 47; s.paddingTop = 0; s.paddingBottom = 0; }
                }
            }
        },
        plugins: [framePlugin, idPlugin(p.labelText, p.labelWave, p.labelFlux)]
    });
}

drawPanel('panel1', {
    wave: p1Wave, flux: p1Flux, min: 900, max: 1200,
    markWave: p1MarkWave, markTop: p1MarkTop, markBot: p1MarkBot,
    starWave: [], starFlux: [],
    labelText: p1LabelText, labelWave: p1LabelWave, labelFlux: p1LabelFlux,
    title: 'zeta Puppis', padTop: 0, tickPad: 3, xHeight: 24.3
});
drawPanel('panel2', {
    wave: p2Wave, flux: p2Flux, min: 1200, max: 1500,
    markWave: p2MarkWave, markTop: p2MarkTop, markBot: p2MarkBot,
    starWave: p2StarWave, starFlux: p2StarFlux,
    labelText: p2LabelText, labelWave: p2LabelWave, labelFlux: p2LabelFlux,
    padTop: 28, tickPad: 4.5, xHeight: 26
});
drawPanel('panel3', {
    wave: p3Wave, flux: p3Flux, min: 1500, max: 1800,
    markWave: p3MarkWave, markTop: p3MarkTop, markBot: p3MarkBot,
    starWave: p3StarWave, starFlux: p3StarFlux,
    labelText: p3LabelText, labelWave: p3LabelWave, labelFlux: p3LabelFlux,
    xTitle: 'WAVELENGTH (Å)', padTop: 28, tickPad: 2, xHeight: 29
});

// --- Flèches rouges d'annotation (par-dessus la figure) ---
const actx = document.getElementById('arrows').getContext('2d');
actx.strokeStyle = '#ff0000';
actx.lineWidth = 7;
actx.lineCap = 'round';
actx.lineJoin = 'round';
function redArrow(sx, sy, tx, ty, w1x, w1y, w2x, w2y) {
    actx.beginPath();
    actx.moveTo(sx, sy); actx.lineTo(tx, ty);
    actx.moveTo(w1x, w1y); actx.lineTo(tx, ty); actx.lineTo(w2x, w2y);
    actx.stroke();
}
redArrow(956, 186, 679, 503, 690, 460, 723, 485);
redArrow(958, 423, 837, 520, 857, 478, 885, 510);
</script>
</body>
</html>
